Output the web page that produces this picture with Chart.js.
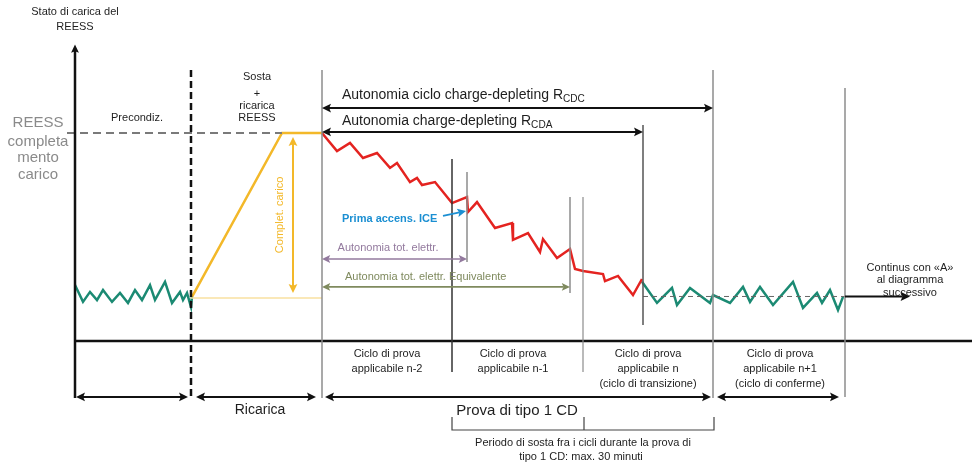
<!DOCTYPE html>
<html>
<head>
<meta charset="utf-8">
<script src="https://cdn.jsdelivr.net/npm/chart.js@4/dist/chart.umd.min.js"></script>
<style>
html, body { margin: 0; padding: 0; background: #fff; }
#wrap { width: 972px; height: 468px; }
</style>
</head>
<body>
<div id="wrap"><canvas id="socChart"></canvas></div>
<script>
// x = distance units from the SOC axis, y = REESS state of charge (%)
var precondX = [0, 0.8, 1.5, 2.2, 2.8, 3.7, 4.5, 5.3, 6.0, 6.7, 7.5, 8.0, 9.0, 9.7, 10.5, 10.8, 11.2, 11.6, 11.7];
var precondY = [26.9, 18.8, 23.6, 19.7, 24.5, 18.8, 23.1, 18.3, 24.5, 19.7, 26.9, 19.7, 28.4, 18.3, 23.6, 19.7, 23.1, 16.3, 21.2];

var chargeX = [11.7, 20.7, 24.7];
var chargeY = [21.2, 100, 100];

var depletingX = [24.7, 26.2, 27.5, 28.8, 30.2, 31.5, 32.2, 33.5, 34.2, 34.7, 36.0, 37.7, 39.2, 39.3, 40.2, 42.0, 43.7, 43.8, 45.3, 46.5, 46.8, 48.2, 49.5, 50.0, 50.8, 52.8, 53.0, 54.3, 55.8, 56.7];
var depletingY = [100, 91.3, 95.2, 88.0, 90.4, 83.2, 85.6, 76.4, 78.4, 75.0, 76.4, 66.3, 69.2, 62.0, 66.8, 54.3, 56.7, 48.6, 51.9, 42.8, 49.0, 39.9, 44.2, 34.6, 33.7, 32.2, 28.8, 31.3, 22.1, 29.8];

var sustainX = [56.7, 58.2, 59.7, 60.2, 61.5, 63.5, 63.8, 65.5, 66.8, 67.5, 68.5, 69.8, 71.8, 72.8, 74.2, 74.7, 75.5, 76.3, 76.8];
var sustainY = [28.5, 18.3, 25.5, 17.3, 25.5, 18.3, 22.1, 18.3, 26.0, 18.8, 26.0, 17.3, 28.4, 15.9, 23.1, 18.3, 24.5, 14.9, 21.2];

var fullSoc = 100;
var startSoc = 20.7;
var sustainSoc = 21.4;

// phase boundaries on the distance axis
var bounds = { axis: 0, precond: 11.6, cdStart: 24.7, n1: 37.7, ice: 39.2, eac: 49.5, n: 50.8, cda: 56.8, cdc: 63.8, conf: 77.0, next: 83.5 };

var FONT = '"Liberation Sans", Arial, sans-serif';
var teal = '#1b8a73', red = '#e42320', yellow = '#f3b829', paleYellow = '#f9e0a0';
var grey = '#8c8c8c', dark = '#333';

function pts(xs, ys) {
    return xs.map(function (x, i) { return { x: x, y: ys[i] }; });
}

// vertical guide lines: x, from, to
var guides = [
    { x: bounds.cdStart, y1: 130.3, y2: -27.4, c: grey, w: 1.5 },
    { x: bounds.n1, y1: 87.5, y2: -14.9, c: dark, w: 1.5 },
    { x: bounds.ice, y1: 81.3, y2: 38.0, c: grey, w: 1.5 },
    { x: bounds.eac, y1: 69.2, y2: 23.1, c: grey, w: 1.5 },
    { x: bounds.n, y1: 69.2, y2: -14.9, c: grey, w: 1.2 },
    { x: bounds.cda, y1: 103.8, y2: 7.7, c: '#555', w: 1.5 },
    { x: bounds.cdc, y1: 130.3, y2: -27.4, c: grey, w: 1.5 },
    { x: bounds.conf, y1: 121.6, y2: -26.9, c: grey, w: 1.5 }
];

// arrows: x1,y1 -> x2,y2, heads at start / end
var arrows = [
    { x1: bounds.cdStart, y1: 112.0, x2: bounds.cdc, y2: 112.0, c: '#111', w: 2, a: true, b: true },
    { x1: bounds.cdStart, y1: 100.5, x2: bounds.cda, y2: 100.5, c: '#111', w: 2, a: true, b: true },
    { x1: bounds.cdStart, y1: 39.4, x2: bounds.ice, y2: 39.4, c: '#937a9e', w: 1.6, a: true, b: true },
    { x1: bounds.cdStart, y1: 26.0, x2: bounds.eac, y2: 26.0, c: '#7f8a5e', w: 1.6, a: true, b: true },
    { x1: 36.8, y1: 60.1, x2: 39.1, y2: 62.5, c: '#1b8fd2', w: 1.8, a: false, b: true },
    { x1: 21.8, y1: 98.1, x2: 21.8, y2: 23.1, c: yellow, w: 2, a: true, b: true },
    { x1: bounds.conf, y1: sustainSoc, x2: bounds.next, y2: sustainSoc, c: '#111', w: 2.2, a: false, b: true },
    { x1: 0.1, y1: -26.9, x2: 11.3, y2: -26.9, c: '#111', w: 2, a: true, b: true },
    { x1: 12.1, y1: -26.9, x2: 24.1, y2: -26.9, c: '#111', w: 2, a: true, b: true },
    { x1: 25.0, y1: -26.9, x2: 63.6, y2: -26.9, c: '#111', w: 2, a: true, b: true },
    { x1: 64.2, y1: -26.9, x2: 76.4, y2: -26.9, c: '#111', w: 2, a: true, b: true }
];

var labels = [
    { x: 0, y: 158.2, t: 'Stato di carica del' },
    { x: 0, y: 151.0, t: 'REESS' },
    { x: -3.7, y: 104.8, t: 'REESS', s: 15, c: '#8a8a8a' },
    { x: -3.7, y: 95.7, t: 'completa', s: 15, c: '#8a8a8a' },
    { x: -3.7, y: 88.0, t: 'mento', s: 15, c: '#8a8a8a' },
    { x: -3.7, y: 79.8, t: 'carico', s: 15, c: '#8a8a8a' },
    { x: 6.2, y: 107.2, t: 'Precondiz.' },
    { x: 18.2, y: 126.9, t: 'Sosta' },
    { x: 18.2, y: 118.8, t: '+' },
    { x: 18.2, y: 113.0, t: 'ricarica' },
    { x: 18.2, y: 107.2, t: 'REESS' },
    { x: 26.7, y: 118.3, t: 'Autonomia ciclo charge-depleting R', sub: 'CDC', s: 14, al: 'left' },
    { x: 26.7, y: 105.8, t: 'Autonomia charge-depleting R', sub: 'CDA', s: 14, al: 'left' },
    { x: 26.7, y: 58.7, t: 'Prima accens. ICE', c: '#1b8fd2', al: 'left', bold: true },
    { x: 31.3, y: 44.7, t: 'Autonomia tot. elettr.', c: '#937a9e' },
    { x: 27.0, y: 30.8, t: 'Autonomia tot. elettr. Equivalente', c: '#7f8a5e', al: 'left' },
    { x: 20.5, y: 60.6, t: 'Complet. carico', c: yellow, rot: true },
    { x: 83.5, y: 35.1, t: 'Continus con \u00abA\u00bb' },
    { x: 83.5, y: 29.3, t: 'al diagramma' },
    { x: 83.5, y: 23.1, t: 'successivo' },
    { x: 31.2, y: -6.25, t: 'Ciclo di prova' },
    { x: 31.2, y: -13.5, t: 'applicabile n-2' },
    { x: 43.8, y: -6.25, t: 'Ciclo di prova' },
    { x: 43.8, y: -13.5, t: 'applicabile n-1' },
    { x: 57.3, y: -6.25, t: 'Ciclo di prova' },
    { x: 57.3, y: -13.5, t: 'applicabile n' },
    { x: 57.3, y: -20.7, t: '(ciclo di transizione)' },
    { x: 70.5, y: -6.25, t: 'Ciclo di prova' },
    { x: 70.5, y: -13.5, t: 'applicabile n+1' },
    { x: 70.5, y: -20.7, t: '(ciclo di conferme)' },
    { x: 18.5, y: -33.2, t: 'Ricarica', s: 14 },
    { x: 44.2, y: -33.7, t: 'Prova di tipo 1 CD', s: 15 },
    { x: 50.8, y: -49.0, t: 'Periodo di sosta fra i cicli durante la prova di' },
    { x: 50.6, y: -55.8, t: 'tipo 1 CD: max. 30 minuti' }
];

function head(ctx, x, y, ang, color, w) {
    var L = 5 + w * 2, H = 2 + w * 1.2;
    ctx.save();
    ctx.translate(x, y);
    ctx.rotate(ang);
    ctx.beginPath();
    ctx.moveTo(0, 0);
    ctx.lineTo(-L, -H);
    ctx.lineTo(-L * 0.8, 0);
    ctx.lineTo(-L, H);
    ctx.closePath();
    ctx.fillStyle = color;
    ctx.fill();
    ctx.restore();
}

var diagram = {
    id: 'diagram',
    afterDatasetsDraw: function (chart) {
        var ctx = chart.ctx, xs = chart.scales.x, ys = chart.scales.y;
        var px = function (v) { return xs.getPixelForValue(v); };
        var py = function (v) { return ys.getPixelForValue(v); };
        ctx.save();

        // axes
        ctx.strokeStyle = '#111';
        ctx.lineWidth = 2.5;
        ctx.beginPath();
        ctx.moveTo(px(bounds.axis), py(-27.4));
        ctx.lineTo(px(bounds.axis), py(140));
        ctx.moveTo(px(bounds.axis), py(0));
        ctx.lineTo(px(xs.max), py(0));
        ctx.stroke();
        head(ctx, px(bounds.axis), py(142.5), -Math.PI / 2, '#111', 1.6);

        // dashed end of preconditioning
        ctx.setLineDash([7, 4]);
        ctx.beginPath();
        ctx.moveTo(px(bounds.precond), py(130.3));
        ctx.lineTo(px(bounds.precond), py(-27.4));
        ctx.stroke();
        ctx.setLineDash([]);

        guides.forEach(function (g) {
            ctx.strokeStyle = g.c;
            ctx.lineWidth = g.w;
            ctx.beginPath();
            ctx.moveTo(px(g.x), py(g.y1));
            ctx.lineTo(px(g.x), py(g.y2));
            ctx.stroke();
        });

        // bracket for the soak period
        ctx.strokeStyle = '#444';
        ctx.lineWidth = 1.2;
        ctx.beginPath();
        ctx.moveTo(px(bounds.n1), py(-36.5));
        ctx.lineTo(px(bounds.n1), py(-42.8));
        ctx.lineTo(px(63.9), py(-42.8));
        ctx.lineTo(px(63.9), py(-36.5));
        ctx.moveTo(px(50.9), py(-36.5));
        ctx.lineTo(px(50.9), py(-42.8));
        ctx.stroke();

        arrows.forEach(function (a) {
            var x1 = px(a.x1), y1 = py(a.y1), x2 = px(a.x2), y2 = py(a.y2);
            var ang = Math.atan2(y2 - y1, x2 - x1);
            var L = 4 + a.w * 1.5;
            var sx = a.a ? x1 + Math.cos(ang) * L : x1, sy = a.a ? y1 + Math.sin(ang) * L : y1;
            var ex = a.b ? x2 - Math.cos(ang) * L : x2, ey = a.b ? y2 - Math.sin(ang) * L : y2;
            ctx.strokeStyle = a.c;
            ctx.lineWidth = a.w;
            ctx.beginPath();
            ctx.moveTo(sx, sy);
            ctx.lineTo(ex, ey);
            ctx.stroke();
            if (a.a) head(ctx, x1, y1, ang + Math.PI, a.c, a.w);
            if (a.b) head(ctx, x2, y2, ang, a.c, a.w);
        });

        ctx.textBaseline = 'middle';
        labels.forEach(function (l) {
            var s = l.s || 11;
            ctx.fillStyle = l.c || '#1e1e1e';
            ctx.font = (l.bold ? '600 ' : '') + s + 'px ' + FONT;
            ctx.textAlign = l.al || 'center';
            var x = px(l.x), y = py(l.y);
            if (l.rot) {
                ctx.save();
                ctx.translate(x, y);
                ctx.rotate(-Math.PI / 2);
                ctx.fillText(l.t, 0, 0);
                ctx.restore();
                return;
            }
            ctx.fillText(l.t, x, y);
            if (l.sub) {
                var w = ctx.measureText(l.t).width;
                ctx.font = (s * 0.72) + 'px ' + FONT;
                ctx.textAlign = 'left';
                ctx.fillText(l.sub, x + w, y + s * 0.3);
            }
        });
        ctx.restore();
    }
};

var ctx = document.getElementById('socChart');
var socChart = new Chart(ctx, {
    type: 'line',
    data: {
        datasets: [
            { data: pts([bounds.axis - 0.8, 20.7], [fullSoc, fullSoc]), borderColor: '#7a7a7a', borderWidth: 2, borderDash: [8, 5] },
            { data: pts([bounds.precond, bounds.cdStart], [startSoc, startSoc]), borderColor: paleYellow, borderWidth: 1.5 },
            { data: pts([bounds.cda, bounds.conf], [sustainSoc, sustainSoc]), borderColor: '#666', borderWidth: 1, borderDash: [5, 4] },
            { data: pts(precondX, precondY), borderColor: teal, borderWidth: 2.5 },
            { data: pts(chargeX, chargeY), borderColor: yellow, borderWidth: 2.5 },
            { data: pts(depletingX, depletingY), borderColor: red, borderWidth: 2.5 },
            { data: pts(sustainX, sustainY), borderColor: teal, borderWidth: 2.5 }
        ]
    },
    options: {
        responsive: true,
        maintainAspectRatio: false,
        animation: false,
        layout: { padding: 0 },
        elements: { point: { radius: 0 }, line: { tension: 0, borderJoinStyle: 'miter' } },
        plugins: { legend: { display: false }, tooltip: { enabled: false } },
        scales: {
            x: { type: 'linear', display: false, min: -7.5, max: 89.7 },
            y: { type: 'linear', display: false, min: -61.06, max: 163.94 }
        }
    },
    plugins: [diagram]
});
</script>
</body>
</html>
